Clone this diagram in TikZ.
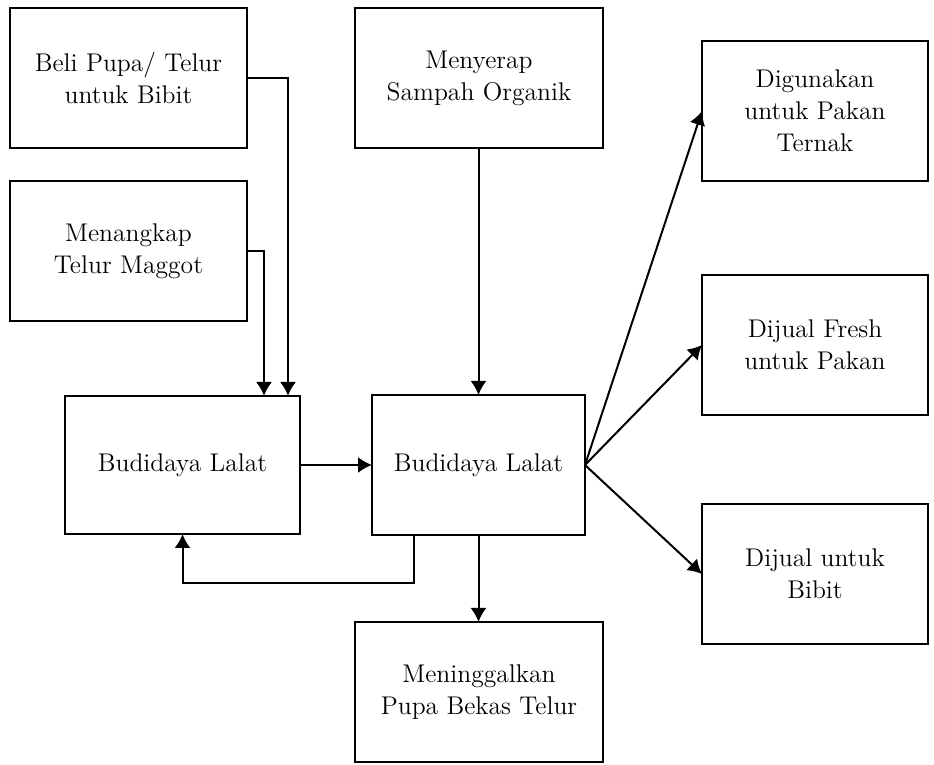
\documentclass[tikz,border=0pt]{standalone}
\usepackage{tikz}
\usetikzlibrary{arrows.meta,positioning}

\begin{document}
\begin{tikzpicture}[x=0.5pt, y=-0.5pt, line width=1pt,
    block/.style={draw, rectangle, align=center, font=\fontsize{12.8}{16}\selectfont, inner sep=0pt, outer sep=0pt},
    arr/.style={-{Latex[length=7pt,width=8pt]}}]
    \useasboundingbox (0,0) rectangle (934,765);

    \node[block, minimum width=118.5pt, minimum height=70pt] (beli) at (128.5,78) {Beli Pupa/ Telur\\untuk Bibit};
    \node[block, minimum width=118.5pt, minimum height=70pt] (tangkap) at (128.5,251) {Menangkap\\Telur Maggot};
    \node[block, minimum width=117.5pt, minimum height=69pt] (lalatA) at (182.5,465) {Budidaya Lalat};
    \node[block, minimum width=106.5pt, minimum height=70pt] (lalatB) at (478.5,465) {Budidaya Lalat};
    \node[block, minimum width=124pt, minimum height=70pt] (serap) at (479,78) {Menyerap\\Sampah Organik};
    \node[block, minimum width=124pt, minimum height=70pt] (tinggal) at (479,692) {Meninggalkan\\Pupa Bekas Telur};
    \node[block, minimum width=113pt, minimum height=70pt] (pakan) at (815,111) {Digunakan\\untuk Pakan\\Ternak};
    \node[block, minimum width=113pt, minimum height=70pt] (fresh) at (815,345) {Dijual Fresh\\untuk Pakan};
    \node[block, minimum width=113pt, minimum height=70pt] (bibit) at (815,574) {Dijual untuk\\Bibit};

    \draw[arr] (beli.east) -| ([xshift=-6pt]lalatA.north east);
    \draw[arr] (tangkap.east) -| ([xshift=-18pt]lalatA.north east);
    \draw[arr] (serap.south -| lalatB.north) -- (lalatB.north);
    \draw[arr] (lalatA.east) -- (lalatA.east -| lalatB.west);
    \draw[arr] ([xshift=21pt]lalatB.south west) -- ++(0,-24pt) -| (lalatA.south);
    \draw[arr] (lalatB.south) -- (lalatB.south |- tinggal.north);

    \draw[arr] (lalatB.east) -- (pakan.west);
    \draw[arr] (lalatB.east) -- (fresh.west);
    \draw[arr] (lalatB.east) -- (bibit.west);
\end{tikzpicture}
\end{document}
